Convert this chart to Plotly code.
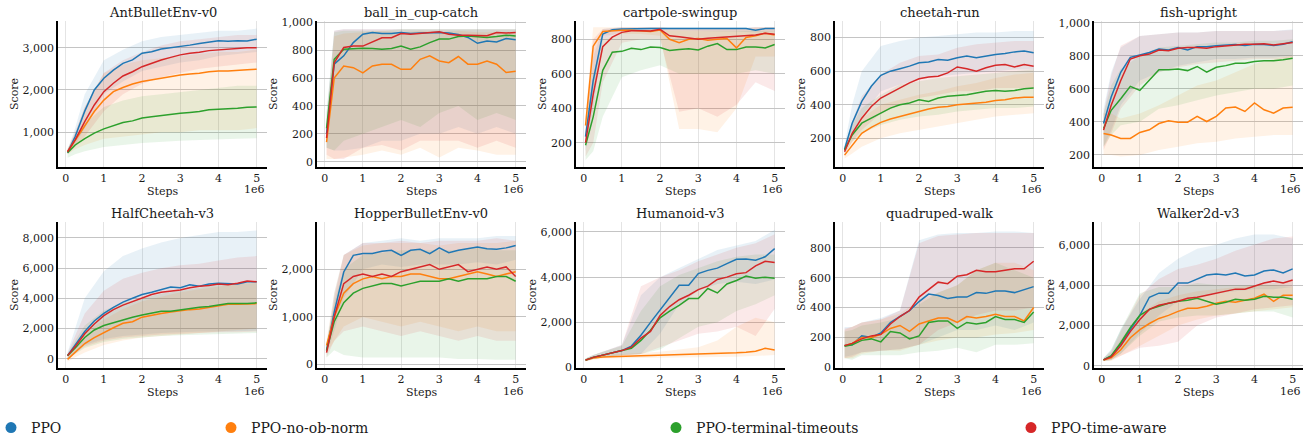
import plotly.graph_objects as go

# x positions (millions of steps)
steps = [0.05, 0.25, 0.5, 0.75, 1.0, 1.25, 1.5, 1.75, 2.0, 2.25, 2.5,
         2.75, 3.0, 3.25, 3.5, 3.75, 4.0, 4.25, 4.5, 4.75, 5.0]
band_steps = [0.05, 0.25, 0.5, 1.0, 1.5, 2.0, 2.5, 3.0, 3.5, 4.0, 4.5, 5.0]

methods = ["PPO", "PPO-no-ob-norm", "PPO-terminal-timeouts", "PPO-time-aware"]
colors = ["#1f77b4", "#ff7f0e", "#2ca02c", "#d62728"]
fills = ["rgba(31,119,180,0.10)", "rgba(255,127,14,0.10)",
         "rgba(44,160,44,0.10)", "rgba(214,39,40,0.10)"]

# AntBulletEnv-v0
ant_ppo = [520, 900, 1500, 2000, 2276, 2470, 2630, 2710, 2870, 2905, 2970, 3000, 3020, 3060, 3100, 3125, 3165, 3150, 3165, 3160, 3200]
ant_noob = [540, 820, 1170, 1490, 1760, 1960, 2060, 2140, 2200, 2240, 2275, 2330, 2355, 2380, 2395, 2430, 2450, 2450, 2470, 2480, 2490]
ant_term = [520, 700, 850, 980, 1080, 1160, 1230, 1270, 1340, 1370, 1400, 1430, 1450, 1470, 1490, 1530, 1540, 1550, 1570, 1590, 1600]
ant_time = [540, 820, 1250, 1645, 1960, 2160, 2330, 2430, 2550, 2630, 2710, 2770, 2830, 2870, 2890, 2930, 2945, 2975, 2985, 3000, 3000]
ant_ppo_lo = [480, 700, 1100, 1900, 2200, 2450, 2550, 2650, 2700, 2800, 2850, 2900]
ant_ppo_hi = [580, 1100, 1900, 2700, 2950, 3150, 3250, 3300, 3350, 3400, 3400, 3450]
ant_noob_lo = [480, 600, 700, 850, 900, 950, 1000, 1000, 1050, 1050, 1050, 1100]
ant_noob_hi = [600, 1000, 1600, 2400, 2600, 2700, 2750, 2800, 2850, 2900, 2900, 2950]
ant_term_lo = [400, 480, 550, 650, 700, 750, 780, 800, 820, 840, 850, 860]
ant_term_hi = [620, 900, 1200, 1600, 1750, 1850, 1900, 1950, 2000, 2050, 2100, 2100]
ant_time_lo = [480, 650, 900, 1500, 1900, 2150, 2300, 2400, 2500, 2550, 2600, 2650]
ant_time_hi = [600, 1000, 1600, 2400, 2700, 2900, 3050, 3150, 3200, 3250, 3300, 3300]

# ball_in_cup-catch
ball_ppo = [200, 700, 760, 855, 915, 928, 920, 920, 928, 920, 923, 928, 928, 923, 913, 892, 850, 867, 860, 884, 875]
ball_noob = [140, 600, 687, 675, 638, 687, 699, 699, 663, 663, 735, 760, 723, 711, 755, 700, 700, 723, 700, 640, 650]
ball_term = [240, 735, 807, 812, 815, 812, 807, 812, 830, 807, 824, 855, 880, 880, 898, 903, 898, 892, 898, 908, 903]
ball_time = [170, 710, 820, 830, 830, 860, 890, 890, 920, 915, 920, 928, 932, 915, 908, 908, 908, 905, 928, 923, 928]
ball_ppo_lo = [100, 80, 80, 100, 150, 150, 200, 200, 250, 200, 250, 200]
ball_ppo_hi = [350, 940, 950, 950, 950, 950, 950, 950, 950, 950, 950, 950]
ball_noob_lo = [20, 20, 30, 50, 80, 50, 100, 30, 100, 80, 50, 50]
ball_noob_hi = [250, 900, 920, 930, 940, 930, 940, 930, 940, 930, 930, 920]
ball_term_lo = [100, 80, 150, 200, 250, 300, 250, 350, 400, 300, 350, 300]
ball_term_hi = [350, 930, 940, 940, 940, 950, 950, 950, 950, 950, 950, 950]
ball_time_lo = [50, 20, 20, 100, 120, 80, 150, 150, 150, 100, 150, 100]
ball_time_hi = [300, 940, 950, 950, 950, 950, 950, 950, 950, 950, 950, 950]

# cartpole-swingup
cart_ppo = [235, 560, 830, 855, 860, 862, 863, 863, 863, 863, 863, 863, 863, 863, 863, 863, 862, 862, 852, 862, 863]
cart_noob = [300, 760, 845, 850, 852, 852, 850, 845, 854, 800, 780, 800, 805, 795, 800, 805, 750, 810, 820, 835, 825]
cart_term = [185, 350, 620, 725, 730, 748, 740, 755, 752, 735, 740, 745, 738, 760, 775, 740, 740, 755, 755, 750, 770]
cart_time = [200, 480, 757, 812, 840, 850, 850, 848, 858, 820, 815, 806, 800, 806, 810, 815, 820, 821, 825, 835, 829]
cart_ppo_lo = [150, 400, 800, 845, 850, 850, 850, 850, 848, 845, 840, 845]
cart_ppo_hi = [300, 700, 860, 870, 870, 870, 870, 870, 870, 870, 870, 870]
cart_noob_lo = [200, 500, 820, 830, 830, 820, 280, 280, 260, 400, 700, 700]
cart_noob_hi = [350, 870, 870, 870, 870, 870, 860, 860, 860, 860, 870, 870]
cart_term_lo = [100, 150, 350, 580, 620, 650, 600, 600, 600, 600, 620, 600]
cart_term_hi = [250, 600, 800, 840, 850, 850, 850, 850, 850, 850, 850, 850]
cart_time_lo = [120, 200, 550, 780, 800, 800, 380, 400, 350, 420, 550, 500]
cart_time_hi = [280, 800, 860, 870, 870, 870, 860, 860, 860, 860, 870, 870]

# cheetah-run
cheetah_ppo = [135, 290, 420, 510, 575, 600, 615, 630, 650, 655, 670, 665, 680, 690, 680, 690, 700, 705, 715, 720, 710]
cheetah_noob = [100, 160, 230, 265, 295, 315, 330, 345, 360, 375, 385, 390, 400, 405, 410, 415, 425, 430, 440, 445, 445]
cheetah_term = [130, 220, 290, 320, 350, 380, 400, 410, 430, 420, 440, 450, 455, 460, 470, 480, 485, 480, 485, 495, 500]
cheetah_time = [120, 230, 320, 390, 440, 470, 505, 530, 555, 565, 570, 590, 625, 615, 600, 620, 635, 640, 625, 640, 630]
cheetah_ppo_lo = [120, 220, 330, 480, 520, 550, 570, 580, 590, 600, 610, 610]
cheetah_ppo_hi = [160, 400, 600, 750, 780, 800, 810, 820, 830, 830, 840, 840]
cheetah_noob_lo = [80, 110, 150, 200, 230, 250, 270, 290, 310, 330, 340, 350]
cheetah_noob_hi = [120, 220, 320, 400, 430, 460, 480, 510, 530, 560, 580, 590]
cheetah_term_lo = [110, 180, 230, 280, 310, 330, 340, 360, 370, 380, 380, 390]
cheetah_term_hi = [150, 280, 380, 460, 520, 540, 560, 570, 580, 590, 600, 610]
cheetah_time_lo = [100, 180, 250, 350, 400, 440, 460, 480, 480, 500, 500, 500]
cheetah_time_hi = [140, 300, 450, 580, 650, 690, 700, 740, 760, 770, 780, 780]

# fish-upright
fish_ppo = [390, 550, 700, 790, 805, 820, 840, 835, 850, 835, 855, 855, 860, 865, 868, 862, 870, 868, 862, 870, 885]
fish_noob = [330, 320, 300, 300, 336, 352, 390, 406, 398, 398, 433, 402, 433, 484, 490, 463, 514, 473, 453, 484, 488]
fish_term = [360, 470, 540, 615, 590, 650, 715, 715, 720, 710, 735, 700, 730, 740, 755, 755, 765, 770, 770, 775, 785]
fish_time = [350, 500, 650, 780, 800, 810, 835, 830, 845, 850, 850, 845, 855, 860, 865, 870, 870, 872, 865, 872, 880]
fish_ppo_lo = [250, 350, 500, 650, 700, 740, 760, 780, 780, 790, 790, 800]
fish_ppo_hi = [480, 700, 850, 920, 930, 940, 940, 950, 950, 950, 950, 960]
fish_noob_lo = [200, 200, 190, 200, 230, 250, 270, 280, 300, 310, 320, 320]
fish_noob_hi = [450, 450, 420, 450, 500, 560, 620, 650, 700, 750, 780, 800]
fish_term_lo = [250, 320, 380, 400, 480, 500, 530, 560, 580, 600, 600, 620]
fish_term_hi = [450, 620, 720, 800, 850, 860, 870, 880, 880, 890, 890, 900]
fish_time_lo = [230, 330, 480, 620, 700, 730, 750, 760, 770, 780, 780, 790]
fish_time_hi = [450, 680, 860, 920, 930, 940, 940, 950, 950, 950, 950, 955]

# HalfCheetah-v3
half_ppo = [200, 900, 1800, 2500, 3000, 3400, 3750, 4000, 4250, 4400, 4550, 4750, 4700, 4900, 4800, 4950, 5000, 4950, 4950, 5100, 5100]
half_noob = [-50, 400, 1000, 1400, 1750, 2050, 2350, 2450, 2750, 2900, 3000, 3100, 3200, 3250, 3300, 3400, 3500, 3600, 3600, 3650, 3650]
half_term = [200, 700, 1400, 1900, 2200, 2400, 2600, 2750, 2900, 3000, 3150, 3150, 3250, 3300, 3400, 3450, 3550, 3650, 3650, 3650, 3700]
half_time = [200, 800, 1650, 2300, 2850, 3250, 3550, 3800, 4050, 4250, 4400, 4450, 4550, 4700, 4800, 4850, 4950, 4900, 5000, 5150, 5100]
half_ppo_lo = [50, 400, 900, 1300, 1500, 1600, 1700, 1750, 1800, 1800, 1800, 1850]
half_ppo_hi = [400, 2000, 4000, 5800, 6800, 7300, 7700, 8000, 8200, 8400, 8400, 8500]
half_noob_lo = [-200, 100, 400, 900, 1200, 1400, 1500, 1600, 1700, 1800, 1900, 2000]
half_noob_hi = [100, 800, 1700, 2600, 3300, 3800, 4100, 4400, 4600, 4800, 4950, 5000]
half_term_lo = [50, 300, 700, 1100, 1300, 1400, 1500, 1550, 1600, 1600, 1650, 1700]
half_term_hi = [300, 1200, 2200, 3200, 3700, 4000, 4300, 4500, 4700, 4900, 5000, 5100]
half_time_lo = [50, 350, 800, 1200, 1400, 1500, 1600, 1650, 1700, 1750, 1750, 1800]
half_time_hi = [350, 1500, 3000, 4500, 5300, 5700, 6000, 6200, 6300, 6500, 6700, 6800]

# HopperBulletEnv-v0
hop_ppo = [300, 1100, 1944, 2293, 2330, 2330, 2380, 2400, 2290, 2400, 2420, 2330, 2450, 2350, 2400, 2430, 2470, 2430, 2420, 2450, 2500]
hop_noob = [400, 1000, 1500, 1700, 1800, 1850, 1800, 1850, 1850, 1900, 1900, 1850, 1800, 1800, 1850, 1900, 1950, 1900, 1850, 1900, 1950]
hop_term = [300, 900, 1300, 1500, 1600, 1650, 1700, 1700, 1650, 1700, 1750, 1750, 1750, 1800, 1750, 1800, 1800, 1800, 1850, 1850, 1750]
hop_time = [250, 1000, 1700, 1850, 1900, 1850, 1900, 1850, 1950, 2000, 2050, 2100, 2000, 2050, 2100, 1950, 2000, 2050, 2000, 2050, 1850]
hop_ppo_lo = [200, 700, 1400, 2000, 2100, 2050, 2100, 2100, 2100, 2150, 2100, 2200]
hop_ppo_hi = [400, 1500, 2300, 2550, 2600, 2650, 2600, 2650, 2650, 2650, 2700, 2700]
hop_noob_lo = [250, 500, 800, 1000, 900, 800, 900, 800, 700, 800, 700, 700]
hop_noob_hi = [500, 1500, 2300, 2500, 2550, 2550, 2550, 2500, 2550, 2550, 2550, 2600]
hop_term_lo = [150, 300, 200, 150, 150, 150, 150, 150, 120, 120, 100, 100]
hop_term_hi = [450, 1300, 2000, 2300, 2350, 2400, 2400, 2400, 2400, 2450, 2400, 2400]
hop_time_lo = [150, 500, 700, 800, 700, 600, 700, 600, 500, 600, 500, 500]
hop_time_hi = [350, 1400, 2300, 2550, 2550, 2600, 2550, 2600, 2600, 2600, 2650, 2600]

# Humanoid-v3
hum_ppo = [330, 450, 550, 650, 750, 950, 1430, 2000, 2535, 3100, 3640, 3640, 4157, 4300, 4400, 4600, 4790, 4800, 4750, 4900, 5260]
hum_noob = [330, 420, 470, 490, 500, 510, 520, 530, 540, 550, 560, 570, 580, 600, 620, 640, 650, 680, 720, 850, 780]
hum_term = [330, 450, 550, 640, 730, 850, 1200, 1650, 2200, 2500, 2750, 3050, 3050, 3500, 3300, 3700, 3850, 4050, 3950, 4000, 3950]
hum_time = [330, 450, 550, 650, 750, 900, 1300, 1600, 2300, 2700, 3000, 3200, 3450, 3600, 3900, 4000, 4150, 4200, 4500, 4700, 4650]
hum_ppo_lo = [280, 380, 450, 550, 600, 1500, 2800, 3400, 3700, 3800, 3700, 3900]
hum_ppo_hi = [400, 550, 700, 1000, 3200, 4000, 4400, 4800, 5200, 5400, 5600, 6100]
hum_noob_lo = [280, 350, 400, 420, 430, 440, 450, 460, 470, 480, 500, 550]
hum_noob_hi = [380, 500, 550, 600, 650, 700, 800, 900, 1200, 1800, 2200, 2000]
hum_term_lo = [280, 380, 450, 550, 600, 800, 1300, 1800, 2000, 2500, 2800, 3200]
hum_term_hi = [400, 550, 700, 950, 2500, 3600, 4100, 4400, 4700, 4900, 5000, 5000]
hum_time_lo = [280, 380, 450, 520, 600, 900, 1200, 1500, 1600, 1800, 1400, 2600]
hum_time_hi = [400, 550, 700, 1000, 3600, 4000, 4300, 4700, 5000, 5300, 5500, 5900]

# quadruped-walk
quad_ppo = [145, 150, 210, 200, 230, 300, 340, 380, 440, 490, 480, 460, 470, 470, 500, 495, 510, 510, 500, 520, 540]
quad_noob = [145, 160, 200, 200, 220, 260, 280, 240, 290, 310, 330, 330, 300, 340, 330, 340, 355, 340, 340, 310, 400]
quad_term = [140, 150, 180, 190, 170, 240, 230, 190, 210, 300, 310, 310, 260, 300, 290, 300, 340, 320, 320, 300, 370]
quad_time = [145, 160, 190, 210, 220, 290, 340, 380, 470, 520, 570, 560, 610, 620, 650, 640, 640, 650, 660, 660, 710]
quad_ppo_lo = [70, 80, 100, 110, 120, 150, 200, 250, 250, 280, 250, 300]
quad_ppo_hi = [270, 270, 300, 330, 380, 850, 890, 900, 900, 910, 910, 900]
quad_noob_lo = [60, 60, 90, 110, 110, 150, 180, 200, 200, 220, 230, 250]
quad_noob_hi = [250, 270, 300, 320, 360, 450, 500, 550, 650, 700, 700, 650]
quad_term_lo = [60, 50, 80, 80, 80, 100, 110, 130, 100, 150, 150, 160]
quad_term_hi = [240, 250, 280, 300, 330, 420, 500, 550, 650, 700, 650, 600]
quad_time_lo = [60, 70, 100, 110, 120, 150, 250, 300, 350, 380, 380, 400]
quad_time_hi = [260, 270, 300, 320, 380, 830, 880, 890, 900, 900, 900, 900]

# Walker2d-v3
walk_ppo = [300, 500, 1100, 1800, 2500, 3400, 3600, 3600, 4100, 4100, 4300, 4500, 4550, 4500, 4600, 4450, 4500, 4700, 4750, 4600, 4800]
walk_noob = [300, 400, 800, 1400, 1800, 2100, 2350, 2500, 2700, 2850, 2850, 2950, 3100, 3200, 3150, 3250, 3350, 3550, 3200, 3500, 3500]
walk_term = [300, 500, 1150, 1900, 2500, 2800, 2950, 3100, 3200, 3250, 3350, 3200, 3050, 3150, 3300, 3250, 3300, 3450, 3400, 3400, 3300]
walk_time = [300, 450, 1000, 1700, 2300, 2800, 3000, 3100, 3200, 3350, 3400, 3500, 3600, 3700, 3800, 3800, 3950, 4100, 4200, 4100, 4250]
walk_ppo_lo = [250, 300, 600, 1600, 2500, 3200, 3400, 3600, 3700, 3800, 3800, 3900]
walk_ppo_hi = [400, 800, 1800, 3300, 4600, 5300, 5800, 6000, 6300, 6500, 6500, 6300]
walk_noob_lo = [250, 250, 500, 1000, 1500, 2000, 2300, 2500, 2600, 2700, 2800, 2900]
walk_noob_hi = [350, 600, 1300, 2600, 3200, 3500, 3700, 3800, 3900, 4000, 4100, 4200]
walk_term_lo = [250, 300, 600, 1500, 2200, 2400, 2500, 2500, 2600, 2700, 2700, 2400]
walk_term_hi = [400, 800, 1800, 3600, 3900, 3900, 4100, 4000, 4000, 4000, 4000, 3900]
walk_time_lo = [250, 300, 500, 900, 1000, 1200, 2000, 2400, 2600, 2800, 2900, 3000]
walk_time_hi = [400, 700, 1700, 3500, 4300, 4800, 5000, 5300, 5700, 6000, 6300, 6400]

titles = ["AntBulletEnv-v0", "ball_in_cup-catch", "cartpole-swingup", "cheetah-run", "fish-upright",
          "HalfCheetah-v3", "HopperBulletEnv-v0", "Humanoid-v3", "quadruped-walk", "Walker2d-v3"]

panels = [
    ([ant_ppo, ant_noob, ant_term, ant_time],
     [ant_ppo_lo, ant_noob_lo, ant_term_lo, ant_time_lo],
     [ant_ppo_hi, ant_noob_hi, ant_term_hi, ant_time_hi]),
    ([ball_ppo, ball_noob, ball_term, ball_time],
     [ball_ppo_lo, ball_noob_lo, ball_term_lo, ball_time_lo],
     [ball_ppo_hi, ball_noob_hi, ball_term_hi, ball_time_hi]),
    ([cart_ppo, cart_noob, cart_term, cart_time],
     [cart_ppo_lo, cart_noob_lo, cart_term_lo, cart_time_lo],
     [cart_ppo_hi, cart_noob_hi, cart_term_hi, cart_time_hi]),
    ([cheetah_ppo, cheetah_noob, cheetah_term, cheetah_time],
     [cheetah_ppo_lo, cheetah_noob_lo, cheetah_term_lo, cheetah_time_lo],
     [cheetah_ppo_hi, cheetah_noob_hi, cheetah_term_hi, cheetah_time_hi]),
    ([fish_ppo, fish_noob, fish_term, fish_time],
     [fish_ppo_lo, fish_noob_lo, fish_term_lo, fish_time_lo],
     [fish_ppo_hi, fish_noob_hi, fish_term_hi, fish_time_hi]),
    ([half_ppo, half_noob, half_term, half_time],
     [half_ppo_lo, half_noob_lo, half_term_lo, half_time_lo],
     [half_ppo_hi, half_noob_hi, half_term_hi, half_time_hi]),
    ([hop_ppo, hop_noob, hop_term, hop_time],
     [hop_ppo_lo, hop_noob_lo, hop_term_lo, hop_time_lo],
     [hop_ppo_hi, hop_noob_hi, hop_term_hi, hop_time_hi]),
    ([hum_ppo, hum_noob, hum_term, hum_time],
     [hum_ppo_lo, hum_noob_lo, hum_term_lo, hum_time_lo],
     [hum_ppo_hi, hum_noob_hi, hum_term_hi, hum_time_hi]),
    ([quad_ppo, quad_noob, quad_term, quad_time],
     [quad_ppo_lo, quad_noob_lo, quad_term_lo, quad_time_lo],
     [quad_ppo_hi, quad_noob_hi, quad_term_hi, quad_time_hi]),
    ([walk_ppo, walk_noob, walk_term, walk_time],
     [walk_ppo_lo, walk_noob_lo, walk_term_lo, walk_time_lo],
     [walk_ppo_hi, walk_noob_hi, walk_term_hi, walk_time_hi]),
]

# axis settings per panel
y_ranges = [[180, 3630], [-38, 1010], [59, 906], [29, 899], [127, 1010],
            [-620, 9060], [-71, 2993], [-20, 6440], [-5, 973], [-100, 7120]]
y_dticks = [1000, 200, 200, 200, 200, 2000, 1000, 2000, 200, 2000]

W, H = 1315, 441
FONT = "'DejaVu Serif', 'Liberation Serif', serif"
TXT = "#1a1a1a"

fig = go.Figure()
annotations = []

for i, (means, los, his) in enumerate(panels):
    n = i + 1
    xa = "x" if n == 1 else f"x{n}"
    ya = "y" if n == 1 else f"y{n}"
    for m in range(4):
        fig.add_trace(go.Scatter(
            x=band_steps + band_steps[::-1], y=his[m] + los[m][::-1],
            fill="toself", fillcolor=fills[m], line=dict(width=0),
            mode="lines", hoverinfo="skip", showlegend=False, xaxis=xa, yaxis=ya))
    for m in range(4):
        fig.add_trace(go.Scatter(
            x=steps, y=means[m], mode="lines", name=methods[m],
            line=dict(color=colors[m], width=1.5),
            showlegend=False, xaxis=xa, yaxis=ya))

    row, col = divmod(i, 5)
    left = 58 + 259 * col
    right = left + 209
    top = 21 if row == 0 else 222
    bottom = 167 if row == 0 else 368
    xdom = [left / W, right / W]
    ydom = [1 - bottom / H, 1 - top / H]

    fig.layout[f"xaxis{'' if n == 1 else n}"] = dict(
        domain=xdom, anchor=ya, range=[-0.2, 5.27], tick0=0, dtick=1,
        showgrid=True, gridcolor="#e4e4e4", gridwidth=1.3, zeroline=False,
        showline=True, linecolor="black", linewidth=1.5, ticks="",
        tickfont=dict(family=FONT, size=11, color=TXT), automargin=False,
        title=dict(text="Steps", font=dict(family=FONT, size=11, color=TXT), standoff=1))
    fig.layout[f"yaxis{'' if n == 1 else n}"] = dict(
        domain=ydom, anchor=xa, range=y_ranges[i], tick0=0, dtick=y_dticks[i],
        tickformat=",d", showgrid=True, gridcolor="#c4c4c4", gridwidth=1.3,
        zeroline=False, showline=True, linecolor="black", linewidth=1.5, ticks="",
        tickfont=dict(family=FONT, size=11, color=TXT), automargin=False,
        title=dict(text="Score", font=dict(family=FONT, size=11, color=TXT), standoff=2))

    annotations.append(dict(
        text=titles[i], x=(left + right) / 2 / W, y=1 - (13 if row == 0 else 213) / H,
        xref="paper", yref="paper", xanchor="center", yanchor="middle",
        showarrow=False, font=dict(family=FONT, size=13, color=TXT)))
    annotations.append(dict(
        text="1e6", x=right / W, y=1 - (bottom + 23) / H,
        xref="paper", yref="paper", xanchor="right", yanchor="middle",
        showarrow=False, font=dict(family=FONT, size=11, color=TXT)))

# legend: one entry per legend box, spread along the bottom
legend_left = [-9, 211, 656, 1011]
legend_names = ["legend", "legend2", "legend3", "legend4"]
for m in range(4):
    fig.add_trace(go.Scatter(
        x=[None], y=[None], mode="markers", name=methods[m],
        marker=dict(color=colors[m], size=11), legend=legend_names[m]))

legend_style = dict(
    orientation="h", yanchor="middle", y=1 - 428 / H, xanchor="left",
    bgcolor="rgba(0,0,0,0)", font=dict(family=FONT, size=14, color=TXT))

fig.update_layout(
    width=W, height=H,
    margin=dict(l=0, r=0, t=0, b=0, autoexpand=False),
    paper_bgcolor="white", plot_bgcolor="white",
    font=dict(family=FONT, color=TXT),
    annotations=annotations,
    legend=dict(x=legend_left[0] / W, **legend_style),
    legend2=dict(x=legend_left[1] / W, **legend_style),
    legend3=dict(x=legend_left[2] / W, **legend_style),
    legend4=dict(x=legend_left[3] / W, **legend_style),
)

fig.write_html("out.html", config={"displayModeBar": False},
               post_script="document.body.style.margin='0';")
